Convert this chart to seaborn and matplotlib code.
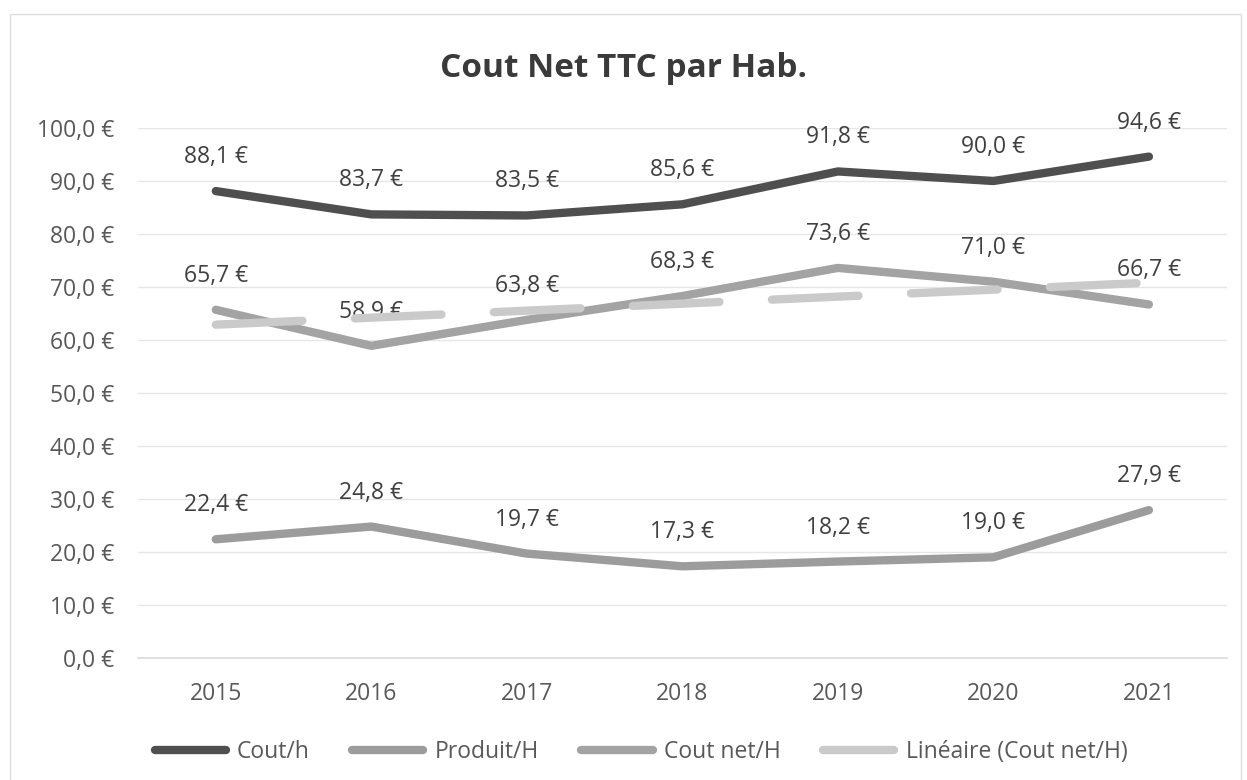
import numpy as np
import pandas as pd
import seaborn as sns
import matplotlib.pyplot as plt
from matplotlib.lines import Line2D
from matplotlib.patches import Rectangle

# --- données ---
annees = [2015, 2016, 2017, 2018, 2019, 2020, 2021]
cout_h = [88.1, 83.7, 83.5, 85.6, 91.8, 90.0, 94.6]
produit_h = [22.4, 24.8, 19.7, 17.3, 18.2, 19.0, 27.9]
cout_net_h = [65.7, 58.9, 63.8, 68.3, 73.6, 71.0, 66.7]

series = ['Cout/h', 'Produit/H', 'Cout net/H']
couleurs = {'Cout/h': '#4f4f4f', 'Produit/H': '#9c9c9c', 'Cout net/H': '#a3a3a3'}
trend_color = '#cacaca'

df = pd.DataFrame({'Année': annees, 'Cout/h': cout_h,
                   'Produit/H': produit_h, 'Cout net/H': cout_net_h})
long_df = df.melt(id_vars='Année', var_name='Série', value_name='Valeur')

sns.set_theme(style="white")
plt.rcParams['font.family'] = ['Open Sans', 'DejaVu Sans']

fig = plt.figure(figsize=(12.47, 7.8), dpi=100)
ax = fig.add_axes([0.1107, 0.1564, 0.873, 0.6795])

lw = 6
sns.lineplot(data=long_df, x='Année', y='Valeur', hue='Série',
             hue_order=series, palette=couleurs, linewidth=lw,
             legend=False, ax=ax, solid_capstyle='round')

# courbe de tendance linéaire (Cout net/H), dessinée par-dessus les étiquettes
sns.regplot(data=df, x='Année', y='Cout net/H', scatter=False, ci=None,
            ax=ax, line_kws={'color': trend_color, 'linewidth': lw, 'zorder': 4,
                             'dashes': (10.4, 6.3), 'dash_capstyle': 'round'})


def euro(v, sep=' '):
    return f"{v:.1f}".replace('.', ',') + sep + "€"


# étiquettes de données
for s in series:
    for x, v in zip(df['Année'], df[s]):
        ax.annotate(euro(v), (x, v), xytext=(0, 24.5), textcoords='offset points',
                    ha='center', va='center', fontsize=16.5, color='#404040',
                    zorder=3)

ax.set_xlim(2014.5, 2021.5)
ax.set_ylim(0, 100)
ax.set_yticks(np.arange(0, 101, 10))
ax.set_yticklabels([euro(v) for v in np.arange(0, 101, 10)])
ax.set_xticks(annees)
ax.tick_params(axis='both', length=0, labelsize=16.5, labelcolor='#595959')
ax.tick_params(axis='x', pad=17)
ax.tick_params(axis='y', pad=17)
ax.grid(axis='y', color='#e6e6e6', linewidth=1)
for sp in ['top', 'right', 'left']:
    ax.spines[sp].set_visible(False)
ax.spines['bottom'].set_color('#dddddd')
ax.set_xlabel('')
ax.set_ylabel('')

fig.text(0.5, 0.912, 'Cout Net TTC par Hab.', ha='center', va='center',
         fontsize=24, fontweight='bold', color='#3a3a3a')

handles = [Line2D([0], [0], color=couleurs[s], linewidth=lw, solid_capstyle='round')
           for s in series]
handles.append(Line2D([0], [0], color=trend_color, linewidth=lw,
                      solid_capstyle='round'))
labels = series + ['Linéaire (Cout net/H)']
fig.legend(handles, labels, loc='center', bbox_to_anchor=(0.514, 0.036), ncol=4,
           frameon=False, fontsize=16.5, handlelength=3.1, handletextpad=0.5,
           columnspacing=1.85, labelcolor='#595959')

# cadre du graphique
fig.patches.append(Rectangle((0.008, -0.01), 0.987, 0.992, transform=fig.transFigure,
                             fill=False, edgecolor='#dcdcdc', linewidth=1))

fig.savefig('out.png', dpi=100)
